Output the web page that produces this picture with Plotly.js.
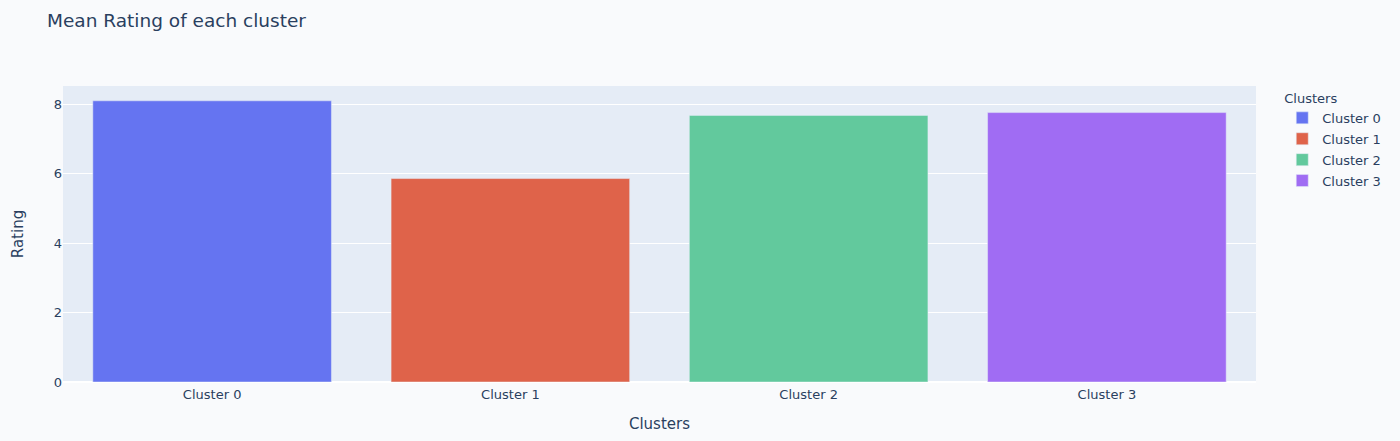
<!DOCTYPE html>
<html>
<head>
<meta charset="utf-8">
<script src="https://cdn.plot.ly/plotly-3.0.1.min.js"></script>
<style>html,body{margin:0;padding:0;background:#f9fafc;}#chart{width:1400px;height:441px;}</style>
</head>
<body>
<div id="chart"></div>
<script>
const categories = ["Cluster 0", "Cluster 1", "Cluster 2", "Cluster 3"];
const ratings = [8.10, 5.86, 7.68, 7.76];
const colors = ["#6574f1", "#df634a", "#62c99d", "#a06cf3"];

const traces = categories.map((c, i) => ({
  type: "bar",
  name: c,
  x: [c],
  y: [ratings[i]],
  marker: {color: colors[i], line: {color: "#e5ecf6", width: 0.5}},
  legendgroup: c,
  showlegend: true
}));

const fontFam = "Verdana, 'DejaVu Sans', sans-serif";
const layout = {
  width: 1400,
  height: 441,
  paper_bgcolor: "#f9fafc",
  plot_bgcolor: "#e5ecf6",
  font: {family: fontFam, size: 13, color: "#2a3f5f"},
  title: {text: "Mean Rating of each cluster", x: 47/1400, xanchor: "left", y: 1 - 21/441, yanchor: "middle", font: {size: 18.5, color: "#2a3f5f"}},
  margin: {l: 63, r: 144, t: 86, b: 59, pad: 0},
  barmode: "relative",
  bargap: 0.2,
  xaxis: {
    title: {text: "Clusters", font: {size: 15}, standoff: 17},
    categoryorder: "array", categoryarray: categories,
    gridcolor: "white", linecolor: "white", ticks: "", showgrid: false
  },
  yaxis: {
    title: {text: "Rating", font: {size: 15}},
    gridcolor: "white", gridwidth: 1, zerolinecolor: "white", zerolinewidth: 2,
    dtick: 2, ticks: ""
  },
  legend: {title: {text: "Clusters", font: {size: 13}}, tracegroupgap: 1, x: 1.022, y: 1.0, font: {size: 13}}
};

Plotly.newPlot("chart", traces, layout, {displayModeBar: false});
</script>
</body>
</html>
